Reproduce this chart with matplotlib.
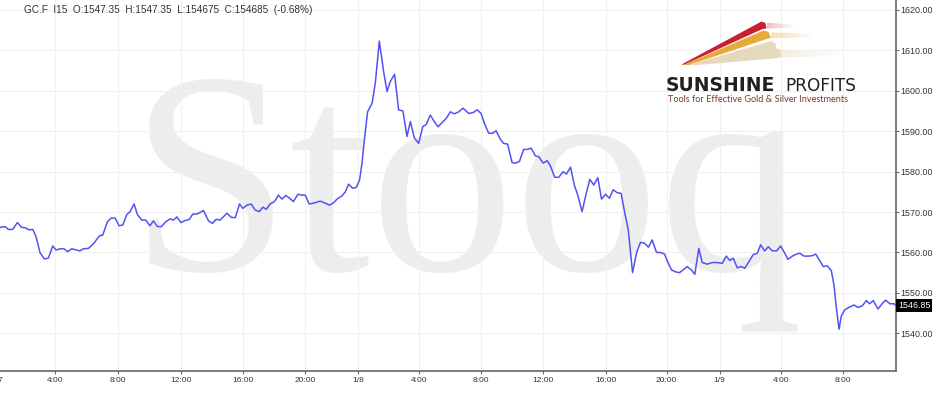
import matplotlib
matplotlib.use("Agg")
import matplotlib.pyplot as plt
from matplotlib.patches import Polygon
from matplotlib.ticker import FormatStrFormatter

# GC.F, 15 minute bars, x in session hours counted from 1/7 00:00
hours = [
    0.42, 0.74, 0.95, 1.24, 1.54, 1.82, 2.04, 2.31, 2.54, 2.75,
    3.01, 3.29, 3.55, 3.83, 4.05, 4.30, 4.56, 4.80, 5.06, 5.60,
    5.81, 6.14, 6.46, 6.85, 7.07, 7.37, 7.61, 7.87, 8.13, 8.37,
    8.63, 8.84, 9.10, 9.31, 9.60, 9.86, 10.12, 10.35, 10.61, 10.87,
    11.15, 11.43, 11.65, 11.87, 12.13, 12.41, 12.68, 12.90, 13.16, 13.38,
    13.59, 13.92, 14.18, 14.41, 14.67, 15.11, 15.39, 15.65, 15.93, 16.14,
    16.40, 16.68, 16.94, 17.20, 17.44, 17.66, 17.91, 18.19, 18.45, 18.67,
    18.93, 19.17, 19.42, 19.71, 19.97, 20.18, 20.44, 20.72, 21.15, 21.48,
    21.76, 22.02, 22.24, 22.56, 22.78, 22.99, 23.25, 23.49, 23.70, 23.86,
    24.01, 24.22, 24.51, 24.72, 24.98, 25.26, 25.48, 25.69, 25.97, 26.23,
    26.51, 26.77, 26.99, 27.25, 27.53, 27.79, 28.02, 28.28, 28.54, 28.78,
    29.04, 29.32, 29.58, 29.84, 30.12, 30.40, 30.77, 31.05, 31.31, 31.57,
    31.78, 32.06, 32.32, 32.54, 32.82, 33.03, 33.29, 33.58, 33.79, 34.05,
    34.33, 34.55, 34.81, 35.09, 35.30, 35.59, 35.85, 36.06, 36.34, 36.60,
    36.88, 37.10, 37.36, 37.62, 37.83, 38.11, 38.33, 38.61, 38.87, 39.13,
    39.37, 39.63, 39.88, 40.12, 40.38, 40.64, 40.86, 41.10, 41.38, 41.63,
    41.89, 42.15, 42.41, 42.65, 42.93, 43.19, 43.45, 43.66, 43.90, 44.16,
    44.42, 44.66, 44.92, 45.18, 45.41, 45.67, 45.89, 46.22, 46.54, 46.86,
    47.19, 47.45, 47.68, 47.90, 48.16, 48.42, 48.65, 48.91, 49.20, 49.46,
    49.67, 49.93, 50.17, 50.43, 50.71, 50.97, 51.18, 51.44, 51.73, 52.00,
    52.22, 52.48, 52.80, 53.02, 53.24, 53.45, 53.73, 53.99, 54.25, 54.42,
    54.58, 54.75, 54.90, 55.12, 55.39, 55.72, 55.98, 56.26, 56.52, 56.73,
    56.97, 57.27, 57.56, 57.77, 58.05, 58.31, 58.42,
]
prices = [
    1566.2, 1566.4, 1565.7, 1565.7, 1567.4, 1566.2, 1566.1, 1565.6, 1565.7, 1563.9,
    1559.9, 1558.4, 1558.6, 1561.6, 1560.6, 1560.9, 1560.9, 1560.2, 1560.9, 1560.4,
    1560.9, 1561.0, 1562.1, 1564.1, 1564.3, 1567.6, 1568.5, 1568.5, 1566.6, 1566.8,
    1569.4, 1570.1, 1572.0, 1569.4, 1568.0, 1568.0, 1566.6, 1567.8, 1566.4, 1566.4,
    1567.6, 1568.3, 1568.0, 1568.8, 1567.4, 1567.9, 1568.2, 1569.5, 1569.5, 1569.9,
    1570.4, 1567.8, 1567.2, 1568.2, 1568.0, 1569.7, 1568.7, 1568.6, 1572.0, 1570.9,
    1571.7, 1572.0, 1570.5, 1570.1, 1571.2, 1570.7, 1572.0, 1572.6, 1574.2, 1573.2,
    1574.1, 1573.4, 1572.6, 1574.4, 1574.2, 1574.2, 1572.0, 1572.2, 1572.7, 1572.2,
    1571.7, 1572.3, 1573.2, 1574.0, 1575.0, 1576.9, 1575.9, 1576.1, 1577.9, 1582.1,
    1587.8, 1594.8, 1596.9, 1601.9, 1612.3, 1604.7, 1599.8, 1602.3, 1604.1, 1595.3,
    1595.0, 1588.7, 1592.4, 1588.3, 1587.0, 1591.1, 1591.7, 1594.0, 1592.4, 1591.1,
    1592.1, 1593.2, 1594.8, 1594.3, 1594.8, 1595.7, 1594.4, 1594.6, 1595.3, 1594.4,
    1592.0, 1589.5, 1589.5, 1590.1, 1588.0, 1587.0, 1586.8, 1582.2, 1582.1, 1582.5,
    1585.5, 1585.5, 1585.8, 1583.9, 1583.7, 1582.1, 1582.7, 1581.4, 1578.6, 1578.6,
    1580.0, 1579.4, 1581.1, 1576.5, 1574.2, 1570.1, 1573.8, 1578.1, 1576.7, 1578.5,
    1573.2, 1574.4, 1573.4, 1575.5, 1574.8, 1574.6, 1570.1, 1565.6, 1555.0, 1559.8,
    1562.5, 1562.3, 1561.3, 1563.1, 1560.0, 1560.0, 1559.6, 1557.6, 1555.7, 1555.2,
    1555.0, 1555.7, 1556.5, 1555.7, 1554.6, 1561.0, 1557.5, 1557.1, 1557.5, 1557.5,
    1557.3, 1559.1, 1558.0, 1558.6, 1556.2, 1556.5, 1556.1, 1557.7, 1559.5, 1559.8,
    1561.9, 1560.4, 1561.4, 1560.4, 1560.4, 1561.6, 1560.2, 1558.3, 1559.1, 1559.6,
    1559.8, 1559.1, 1559.1, 1559.2, 1559.6, 1558.3, 1556.5, 1556.7, 1555.5, 1552.0,
    1546.2, 1541.0, 1544.3, 1545.8, 1546.4, 1547.0, 1546.4, 1546.8, 1548.1, 1547.3,
    1548.1, 1546.0, 1547.4, 1548.2, 1547.3, 1547.3, 1546.85,
]

tick_hours = [4.01, 8.08, 12.11, 16.17, 20.18, 23.62, 27.57, 31.56,
              35.61, 39.63, 43.58, 47.01, 50.97, 54.99]
tick_labels = ['4:00', '8:00', '12:00', '16:00', '20:00', '1/8', '4:00', '8:00',
               '12:00', '16:00', '20:00', '1/9', '4:00', '8:00']
first_day_hour = 0.22
first_day_label = '1/7'
price_ticks = [1540, 1550, 1560, 1570, 1580, 1590, 1600, 1610, 1620]
header = "GC.F  I15  O:1547.35  H:1547.35  L:154675  C:154685  (-0.68%)"

plt.rcParams['font.family'] = ['Liberation Sans', 'DejaVu Sans']

W, H = 943, 395
fig = plt.figure(figsize=(W / 100, H / 100), dpi=100)
ax = fig.add_axes([0, 1 - 370.7 / H, 895.7 / W, 370.7 / H])


def fpx(x, y):
    # figure pixel (from top-left) -> figure fraction
    return (x / W, 1 - y / H)


# watermark
ax.text(0.145, 0.2717, 'Stooq', transform=ax.transAxes, fontsize=208,
        family='Liberation Serif', color='#ededed', ha='left', va='baseline',
        zorder=0)

ax.plot(hours, prices, color='#5252f4', lw=1.1, zorder=3)

ax.set_xlim(0.416, 58.42)
ax.set_ylim(1530.74, 1622.47)

ax.set_xticks(tick_hours)
ax.set_xticklabels(tick_labels)
ax.yaxis.tick_right()
ax.set_yticks(price_ticks)
ax.yaxis.set_major_formatter(FormatStrFormatter('%.2f'))

ax.grid(True, color='#f0f0f0', lw=0.8)
ax.set_axisbelow(True)
for side in ['left', 'top']:
    ax.spines[side].set_visible(False)
for side in ['right', 'bottom']:
    ax.spines[side].set_color('#666666')
    ax.spines[side].set_linewidth(1.2)

ax.tick_params(axis='y', length=2.2, width=0.8, pad=1.2, labelsize=6.4,
               color='#666666', labelcolor='#333333')
ax.tick_params(axis='x', length=2.2, width=0.8, pad=2.0, labelsize=6.0,
               color='#666666', labelcolor='#333333')

ax.annotate(first_day_label, xy=(first_day_hour, 0),
            xycoords=('data', 'axes fraction'), xytext=(0, -4.2),
            textcoords='offset points', ha='center', va='top', fontsize=6.0,
            color='#333333', annotation_clip=False)

# last price marker on the right axis
last = prices[-1]
ax.text(1.0026, last, f'{last:.2f}', transform=ax.get_yaxis_transform(),
        ha='left', va='center', color='white', fontsize=6.4,
        bbox=dict(boxstyle='square,pad=0.22', fc='black', ec='none'),
        clip_on=False, zorder=5)

fig.text(24 / W, 1 - 10 / H, header, fontsize=7.2, color='#333333',
         ha='left', va='center')


# Sunshine Profits logo
def poly(points, color, alpha=1.0):
    fig.add_artist(Polygon([fpx(x, y) for x, y in points], closed=True,
                           transform=fig.transFigure, fc=color, ec='none',
                           alpha=alpha, zorder=6))


def trail(x0, x1, top0, top1, bot0, bot1, color, n=10):
    for i in range(n):
        a = i / n
        b = (i + 1) / n
        xa, xb = x0 + (x1 - x0) * a, x0 + (x1 - x0) * b
        ta, tb = top0 + (top1 - top0) * a, top0 + (top1 - top0) * b
        ba, bb = bot0 + (bot1 - bot0) * a, bot0 + (bot1 - bot0) * b
        poly([(xa, ta), (xb, tb), (xb, bb), (xa, ba)], color, 0.7 * (1 - a))


trail(767, 794, 22.5, 25, 28.5, 27.5, '#eba3a8')
trail(771.5, 812, 32.5, 33.5, 38, 37.5, '#f1d08e')
trail(780.5, 842, 49.5, 52.5, 57.5, 56, '#eee7d3')
poly([(681.5, 64.5), (761.5, 21.5), (765.5, 23), (766.5, 28.5), (762.5, 29),
      (684, 64.8)], '#c9202f')
poly([(684, 64.8), (763.5, 30.5), (768.5, 32), (771, 38), (766.5, 39),
      (689, 65)], '#e8a83a')
poly([(689, 65), (771.5, 41), (775.5, 43.5), (776, 48.5), (780, 49),
      (781, 56.5), (778, 58), (696, 65.2)], '#e4d9bd')

sun = fig.text(666 / W, 1 - 90.7 / H, 'SUNSHINE', fontsize=13.5,
               fontweight='bold', family='DejaVu Sans', color='#231f20',
               ha='left', va='baseline', zorder=7)
fig.text(785 / W, 1 - 90.7 / H, 'PROFITS', fontsize=12.2,
         family='DejaVu Sans', color='#231f20', ha='left', va='baseline',
         zorder=7)
fig.text(668 / W, 1 - 99.8 / H, 'Tools for Effective Gold & Silver Investments',
         fontsize=6.6, family='Lato', color='#7b3b2c', ha='left', va='center',
         zorder=7)

fig.savefig('out.png', dpi=100, facecolor='white')
